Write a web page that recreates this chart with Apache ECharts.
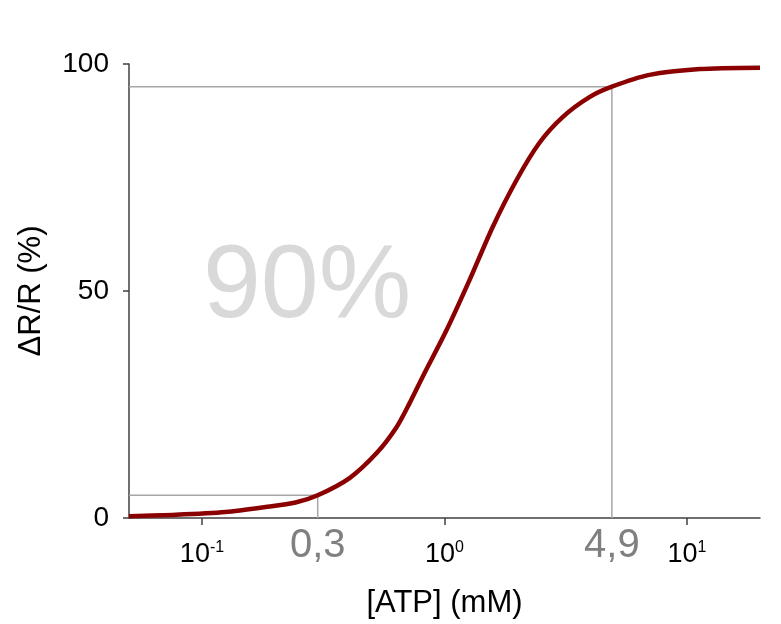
<!DOCTYPE html>
<html>
<head>
<meta charset="utf-8">
<script src="https://cdn.jsdelivr.net/npm/echarts@6/dist/echarts.min.js"></script>
<style>
html,body{margin:0;padding:0;background:#fff;}
#c{width:781px;height:624px;}
</style>
</head>
<body>
<div id="c"></div>
<script>
// ATP concentration (mM) and response (ΔR/R %)
var atp = [0.05, 0.078, 0.125, 0.183, 0.243, 0.3, 0.406, 0.525, 0.634, 0.718, 0.811, 1.02, 1.268, 1.577, 1.98, 2.46, 3.07, 3.96, 4.9, 7.0, 11.3, 20];
var response = [0.4, 0.7, 1.3, 2.4, 3.4, 5.0, 8.8, 14.3, 20, 25.3, 31, 41.4, 52.4, 64, 74.4, 82.6, 88.3, 92.7, 95, 97.6, 98.9, 99.2];

// guide lines: 5% and 95% levels
var lowGuideX = [0.05, 0.3, 0.3];
var lowGuideY = [5, 5, 0];
var highGuideX = [0.05, 4.9, 4.9];
var highGuideY = [95, 95, 0];
var guideLabels = ['0,3', '4,9'];
var rangeText = '90%';

var yTicks = [0, 50, 100];
var xTickExponents = { '0.1': '-1', '1': '0', '10': '1' };
var xName = '[ATP] (mM)';
var yName = 'ΔR/R (%)';

function zip(a, b) { return a.map(function (v, i) { return [v, b[i]]; }); }

var FONT = 'Liberation Sans';
var chart = echarts.init(document.getElementById('c'));

chart.setOption({
  backgroundColor: '#ffffff',
  animation: false,
  grid: { left: 129, right: 21, top: 64, bottom: 106 },
  xAxis: {
    type: 'log', logBase: 10, min: 0.05, max: 20,
    name: xName, nameLocation: 'middle', nameGap: 70,
    nameTextStyle: { fontFamily: FONT, fontSize: 31, color: '#000' },
    axisLine: { lineStyle: { color: '#404040', width: 1.5 } },
    axisTick: { show: true, length: 7, lineStyle: { color: '#404040', width: 1.5 } },
    splitLine: { show: false },
    minorTick: { show: false },
    axisLabel: {
      showMinLabel: false, showMaxLabel: false, margin: 22,
      fontFamily: FONT, fontSize: 27, color: '#000', lineHeight: 30,
      formatter: function (v) {
        var k = String(+v.toPrecision(6));
        if (xTickExponents[k] === undefined) return '';
        return '10{exp|' + xTickExponents[k] + '}';
      },
      rich: {
        exp: { fontFamily: FONT, fontSize: 16, color: '#000', verticalAlign: 'top', lineHeight: 30, padding: [0, 0, 10, 0] }
      }
    }
  },
  yAxis: {
    type: 'value', min: 0, max: 100, interval: 50,
    name: yName, nameLocation: 'middle', nameGap: 82, nameRotate: 90,
    nameTextStyle: { fontFamily: FONT, fontSize: 31, color: '#000' },
    axisLine: { show: true, lineStyle: { color: '#404040', width: 1.5 } },
    axisTick: { show: true, length: 6, lineStyle: { color: '#404040', width: 1.5 } },
    splitLine: { show: false },
    axisLabel: {
      margin: 20, fontFamily: FONT, fontSize: 28, color: '#000',
      formatter: function (v) { return yTicks.indexOf(v) >= 0 ? String(v) : ''; }
    }
  },
  graphic: [{
    type: 'text', left: 203, top: 236, silent: true,
    style: { text: rangeText, fontFamily: FONT, fontSize: 104, fill: '#d9d9d9' }
  }],
  series: [
    {
      type: 'line', data: zip(lowGuideX, lowGuideY), symbol: 'none', silent: true,
      lineStyle: { color: '#a6a6a6', width: 1.5 }, z: 1,
      markPoint: {
        symbol: 'circle', symbolSize: 0, silent: true,
        label: { show: true, position: 'inside', offset: [0, 28], fontFamily: FONT, fontSize: 40, color: '#808080', formatter: '{b}' },
        data: [{ name: guideLabels[0], coord: [lowGuideX[1], 0] }]
      }
    },
    {
      type: 'line', data: zip(highGuideX, highGuideY), symbol: 'none', silent: true,
      lineStyle: { color: '#a6a6a6', width: 1.5 }, z: 1,
      markPoint: {
        symbol: 'circle', symbolSize: 0, silent: true,
        label: { show: true, position: 'inside', offset: [0, 28], fontFamily: FONT, fontSize: 40, color: '#808080', formatter: '{b}' },
        data: [{ name: guideLabels[1], coord: [highGuideX[1], 0] }]
      }
    },
    {
      type: 'line', data: zip(atp, response), symbol: 'none', smooth: 0.25,
      lineStyle: { color: '#8b0000', width: 4.5 }, z: 3
    }
  ]
});
</script>
</body>
</html>
